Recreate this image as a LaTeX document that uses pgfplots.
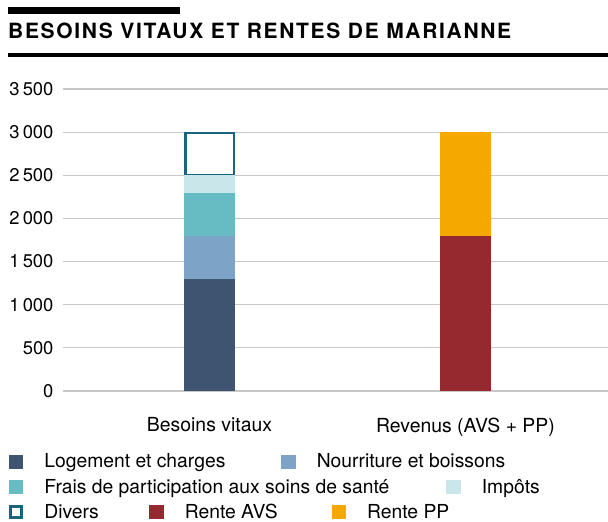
\documentclass[border=0pt]{standalone}
\usepackage{fontspec}
\setmainfont{TeX Gyre Heros}
\usepackage{pgfplots}
\pgfplotsset{compat=1.18}
\definecolor{cLog}{HTML}{3F5471}
\definecolor{cNou}{HTML}{7DA3C6}
\definecolor{cFra}{HTML}{67BBC3}
\definecolor{cImp}{HTML}{C9E7EA}
\definecolor{cDiv}{HTML}{17657F}
\definecolor{cAVS}{HTML}{962830}
\definecolor{cPP}{HTML}{F5A800}
\definecolor{cGrid}{HTML}{C8C8C8}
\pgfplotsset{
  base/.style={
    scale only axis, width=545pt, height=302pt,
    at={(63pt,131pt)}, anchor=south west,
    xmin=-0.5723, xmax=1.5566, ymin=0, ymax=3500,
    axis line style={draw=none}, major tick length=0pt,
    ybar stacked, bar width=51pt,
    /pgf/number format/assume math mode=true,
    /pgf/number format/1000 sep={\,},
  },
  legrow/.style={
    hide axis, scale only axis, width=10pt, height=10pt,
    xmin=0, xmax=1, ymin=0, ymax=1,
    anchor=south west,
    legend columns=-1, legend cell align=left,
    legend style={at={(0,0.5)}, anchor=west, draw=none, fill=none,
      inner sep=0pt, outer sep=0pt, column sep=0pt, row sep=0pt,
      font=\fontsize{19.3}{22}\selectfont,
      nodes={inner sep=0pt, outer sep=0pt}},
  },
  sq/.style={legend image code/.code={\fill[#1] (0pt,-6.7pt) rectangle (13.4pt,6.7pt); \path (35pt,0pt);}},
  sqo/.style={legend image code/.code={\filldraw[fill=white,draw=#1,line width=2.4pt] (1.2pt,-5.5pt) rectangle (12.2pt,5.5pt); \path (0pt,-6.7pt) (35pt,6.7pt);}},
}
\begin{document}
\begin{tikzpicture}
\useasboundingbox (0pt,0pt) rectangle (608pt,522pt);
% title
\fill[black] (8pt,514.5pt) rectangle (180pt,508pt);
\node[anchor=base west, inner sep=0pt, font=\fontsize{21}{24}\selectfont\bfseries\addfontfeatures{LetterSpace=8}] at (8pt,483pt) {BESOINS VITAUX ET RENTES DE MARIANNE};
\fill[black] (8pt,468.7pt) rectangle (608pt,464.7pt);
% main axis: Besoins
\begin{axis}[base,
  ymajorgrids, grid style={cGrid, line width=1.2pt},
  ytick={0,500,...,3500},
  xtick={0,1}, xticklabels={Besoins vitaux, Revenus (AVS + PP)},
  yticklabel style={xshift=-6pt, font=\fontsize{18.4}{21}\selectfont},
  xticklabel style={yshift=-23pt, font=\fontsize{19.4}{22}\selectfont},
]
\addplot[fill=cLog, draw=none] coordinates {(0,1300)};
\addplot[fill=cNou, draw=none] coordinates {(0,500)};
\addplot[fill=cFra, draw=none] coordinates {(0,500)};
\addplot[fill=cImp, draw=none] coordinates {(0,200)};
\addplot[fill=white, draw=cDiv, line width=2.5pt, bar width=48.5pt] coordinates {(0,490)};
\end{axis}
% Revenus
\begin{axis}[base, xtick=\empty, ytick=\empty]
\addplot[fill=cAVS, draw=none] coordinates {(1,1800)};
\addplot[fill=cPP, draw=none] coordinates {(1,1200)};
\end{axis}
% legend rows
\begin{axis}[legrow, at={(9pt,55.3pt)}]
\addlegendimage{sq=cLog}\addlegendentry{\makebox[237pt][l]{Logement et charges}}
\addlegendimage{sq=cNou}\addlegendentry{Nourriture et boissons}
\end{axis}
\begin{axis}[legrow, at={(9pt,30pt)}]
\addlegendimage{sq=cFra}\addlegendentry{\makebox[402pt][l]{Frais de participation aux soins de santé}}
\addlegendimage{sq=cImp}\addlegendentry{Impôts}
\end{axis}
\begin{axis}[legrow, at={(9pt,5pt)}]
\addlegendimage{sqo=cDiv}\addlegendentry{\makebox[105pt][l]{Divers}}
\addlegendimage{sq=cAVS}\addlegendentry{\makebox[147pt][l]{Rente AVS}}
\addlegendimage{sq=cPP}\addlegendentry{Rente PP}
\end{axis}
\end{tikzpicture}
\end{document}
